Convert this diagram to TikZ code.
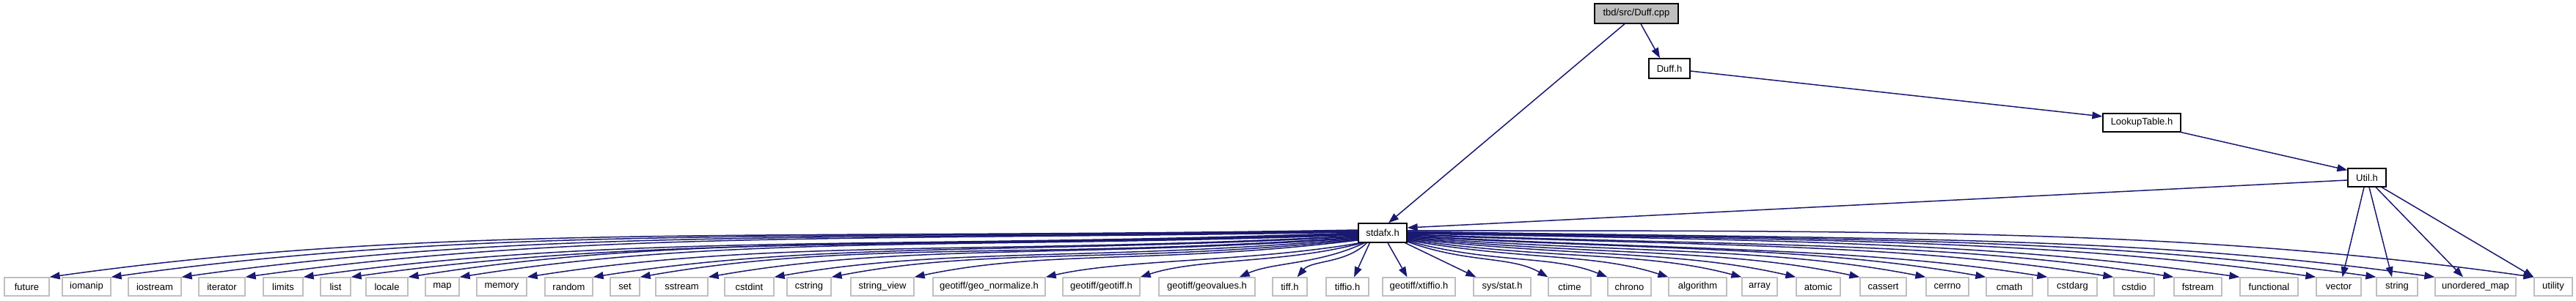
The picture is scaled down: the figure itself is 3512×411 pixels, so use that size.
\documentclass[tikz,border=0pt]{standalone}
\usepackage{fontspec}
\setmainfont{Liberation Sans}
\usetikzlibrary{arrows.meta,calc}
\definecolor{edgeblue}{HTML}{191970}
\definecolor{greyfill}{HTML}{BFBFBF}
\begin{document}
\begin{tikzpicture}[x=1pt,y=1pt,
  box/.style={draw=black, line width=1.3pt, fill=white, inner sep=0pt, minimum height=25pt, font=\fontsize{13}{15}\selectfont},
  gbox/.style={draw=greyfill, line width=1.3pt, fill=white, inner sep=0pt, minimum height=25pt, font=\fontsize{13}{15}\selectfont},
  edge/.style={draw=edgeblue, line width=1.5pt, -{Triangle[length=14pt,width=10pt]}, edgeblue}
]
\useasboundingbox (0,0) rectangle (3512,411);
% upper nodes
\node[box, fill=greyfill, minimum width=114pt, minimum height=27pt] (duffcpp) at (2231,392.5) {tbd/src/Duff.cpp};
\node[box, minimum width=56pt, minimum height=27pt] (duffh) at (2276,317.5) {Duff.h};
\node[box, minimum width=106pt] (lookup) at (2920,243.5) {LookupTable.h};
\node[box, minimum width=52pt] (util) at (3227,168.5) {Util.h};
\node[box, minimum width=66pt, minimum height=26pt] (stdafx) at (1885,93) {stdafx.h};
% bottom nodes
\node[gbox, minimum width=61pt] (future) at (36.5,19.5) {future};
\node[gbox, minimum width=66pt] (iomanip) at (118,19.5) {iomanip};
\node[gbox, minimum width=72pt] (iostream) at (211,19.5) {iostream};
\node[gbox, minimum width=63pt] (iterator) at (302.5,19.5) {iterator};
\node[gbox, minimum width=54pt] (limits) at (386,19.5) {limits};
\node[gbox, minimum width=41pt] (list) at (457.5,19.5) {list};
\node[gbox, minimum width=57pt] (locale) at (527.5,19.5) {locale};
\node[gbox, minimum width=46pt] (map) at (603,19.5) {map};
\node[gbox, minimum width=68pt] (memory) at (684,19.5) {memory};
\node[gbox, minimum width=65pt] (random) at (775.5,19.5) {random};
\node[gbox, minimum width=40pt] (set) at (852,19.5) {set};
\node[gbox, minimum width=71pt] (sstream) at (929.5,19.5) {sstream};
\node[gbox, minimum width=67pt] (cstdint) at (1021.5,19.5) {cstdint};
\node[gbox, minimum width=60pt] (cstring) at (1103,19.5) {cstring};
\node[gbox, minimum width=86pt] (stringview) at (1203,19.5) {string\_view};
\node[gbox, minimum width=153pt] (geonorm) at (1348.5,19.5) {geotiff/geo\_normalize.h};
\node[gbox, minimum width=105pt] (geotiff) at (1501.5,19.5) {geotiff/geotiff.h};
\node[gbox, minimum width=131pt] (geovalues) at (1645.5,19.5) {geotiff/geovalues.h};
\node[gbox, minimum width=47pt] (tiffh) at (1758.5,19.5) {tiff.h};
\node[gbox, minimum width=58pt] (tiffio) at (1837,19.5) {tiffio.h};
\node[gbox, minimum width=99pt] (xtiffio) at (1934.5,19.5) {geotiff/xtiffio.h};
\node[gbox, minimum width=78pt] (sysstat) at (2048,19.5) {sys/stat.h};
\node[gbox, minimum width=58pt] (ctime) at (2140,19.5) {ctime};
\node[gbox, minimum width=59pt] (chrono) at (2221.5,19.5) {chrono};
\node[gbox, minimum width=79pt] (algorithm) at (2314.5,19.5) {algorithm};
\node[gbox, minimum width=48pt] (array) at (2399,19.5) {array};
\node[gbox, minimum width=60pt] (atomic) at (2479,19.5) {atomic};
\node[gbox, minimum width=63pt] (cassert) at (2567.5,19.5) {cassert};
\node[gbox, minimum width=58pt] (cerrno) at (2655,19.5) {cerrno};
\node[gbox, minimum width=63pt] (cmath) at (2739.5,19.5) {cmath};
\node[gbox, minimum width=67pt] (cstdarg) at (2825.5,19.5) {cstdarg};
\node[gbox, minimum width=55pt] (cstdio) at (2909.5,19.5) {cstdio};
\node[gbox, minimum width=65pt] (fstream) at (2996.5,19.5) {fstream};
\node[gbox, minimum width=79pt] (functional) at (3093.5,19.5) {functional};
\node[gbox, minimum width=61pt] (vector) at (3188.5,19.5) {vector};
\node[gbox, minimum width=56pt] (string) at (3268,19.5) {string};
\node[gbox, minimum width=110pt] (umap) at (3375,19.5) {unordered\_map};
\node[gbox, minimum width=52pt] (utility) at (3481,19.5) {utility};
% upper edges
\draw[edge] ([xshift=6pt]duffcpp.south) -- ([xshift=-13pt]duffh.north);
\draw[edge] ([xshift=-16pt]duffcpp.south) -- ([xshift=8pt]stdafx.north);
\draw[edge] ([yshift=-3.5pt]duffh.east) -- ([yshift=8.5pt]lookup.west);
\draw[edge] (lookup.south east) -- ([yshift=-3pt]util.north west);
\draw[edge] ([yshift=-3.5pt]util.west) -- ([yshift=7pt]stdafx.east);
\draw[edge] ([xshift=-4pt]util.south) -- ([xshift=5pt]vector.north);
\draw[edge] ([xshift=3pt]util.south) -- ([xshift=-7pt]string.north);
\draw[edge] ([xshift=12pt]util.south) -- ([xshift=-17pt]umap.north);
\draw[edge] ([xshift=20pt]util.south) -- (utility.north west);
% stdafx edges, left side
\foreach \n/\ex/\ys/\o/\i in {future/67/4/181/8, iomanip/151/3/181/8, iostream/247/2/181/8,
  iterator/334/1/181/8, limits/413/0/182/8, list/478/-1/182/8, locale/556/-2/182/9,
  map/626/-3/182/9, memory/718/-4/183/9, random/808/-5/183/9, set/872/-6/184/10,
  sstream/965/-7/184/10, cstdint/1055/-8/185/10, cstring/1133/-9/186/11, stringview/1246/-10/187/12} {
  \pgfmathsetmacro\dd{1852-\ex}
  \pgfmathsetmacro\ax{0.45*\dd*cos(\o)}
  \pgfmathsetmacro\ay{0.45*\dd*sin(\o)}
  \pgfmathsetmacro\bx{0.3*\dd*cos(\i)}
  \pgfmathsetmacro\by{0.3*\dd*sin(\i)}
  \coordinate (s) at ([yshift=\ys pt]stdafx.west);
  \draw[edge] (s) .. controls ($(s)+(\ax,\ay)$) and ($(\n.north east)+(\bx,\by)$) .. (\n.north east);
}
\coordinate (s1) at ([xshift=3pt]stdafx.south west);
\draw[edge] (s1) .. controls ($(s1)+(-147.7,-26)$) and ($(geonorm.north east)+(107.2,24.7)$) .. (geonorm.north east);
\coordinate (s2) at ([xshift=6pt]stdafx.south west);
\draw[edge] (s2) .. controls ($(s2)+(-106.3,-28.5)$) and ($(geotiff.north east)+(80.8,26.3)$) .. (geotiff.north east);
\coordinate (s3) at ([xshift=9pt]stdafx.south west);
\coordinate (e3) at ([xshift=-22pt]geovalues.north east);
\draw[edge] (s3) .. controls ($(s3)+(-63.4,-29.6)$) and ($(e3)+(45.7,20.3)$) .. (e3);
\coordinate (s4) at ([xshift=12pt]stdafx.south west);
\coordinate (e4) at ([xshift=10pt]tiffh.north);
\draw[edge] (s4) .. controls ($(s4)+(-28.3,-28.3)$) and ($(e4)+(19.3,23)$) .. (e4);
\draw[edge] ([xshift=16pt]stdafx.south west) -- ([xshift=9pt]tiffio.north);
\draw[edge] ([xshift=7pt]stdafx.south) -- ([xshift=-16pt]xtiffio.north);
\draw[edge] ([xshift=-3pt]stdafx.south east) -- ([xshift=4pt]sysstat.north west);
% stdafx edges, right side
\foreach \n/\ex/\ys/\o/\i in {ctime/2111/-12/340/150, chrono/2192/-11/345/158, algorithm/2275/-10/350/162,
  array/2375/-9/352/165, atomic/2449/-8/354/167, cassert/2536/-7/355/168, cerrno/2626/-6/356/169,
  cmath/2708/-5/357/170, cstdarg/2792/-4/357/171, cstdio/2882/-3/358/171, fstream/2964/-2/358/171,
  functional/3054/-1/359/172, vector/3158/0/359/172, string/3240/1/359/172, umap/3320/2/359/172, utility/3455/3/0/172} {
  \pgfmathsetmacro\dd{\ex-1918}
  \pgfmathsetmacro\ax{0.45*\dd*cos(\o)}
  \pgfmathsetmacro\ay{0.45*\dd*sin(\o)}
  \pgfmathsetmacro\bx{0.3*\dd*cos(\i)}
  \pgfmathsetmacro\by{0.3*\dd*sin(\i)}
  \coordinate (s) at ([yshift=\ys pt]stdafx.east);
  \draw[edge] (s) .. controls ($(s)+(\ax,\ay)$) and ($(\n.north west)+(\bx,\by)$) .. (\n.north west);
}
\end{tikzpicture}
\end{document}
